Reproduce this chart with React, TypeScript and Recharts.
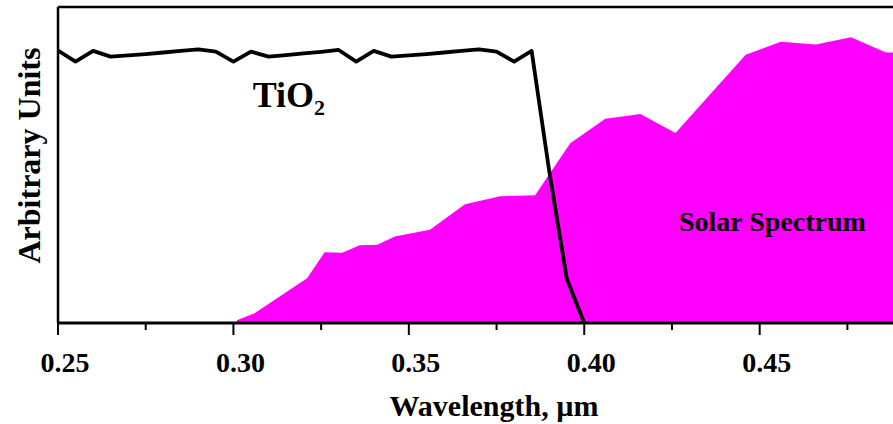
import { ComposedChart, Area, Line, XAxis, YAxis, ReferenceLine } from "recharts";

// TiO2 absorption, every 0.005 µm
const tio2Wavelength = [
  0.25, 0.255, 0.26, 0.265, 0.27, 0.275, 0.28, 0.285, 0.29, 0.295, 0.3, 0.305, 0.31, 0.315, 0.32, 0.325,
  0.33, 0.335, 0.34, 0.345, 0.35, 0.355, 0.36, 0.365, 0.37, 0.375, 0.38, 0.385, 0.39, 0.395, 0.4,
];
const tio2Absorption = [
  86.2, 82.7, 86.1, 84.3, 84.7, 85.1, 85.6, 86.1, 86.6, 85.9, 82.7, 85.9, 84.3, 84.8, 85.3, 85.8,
  86.4, 82.7, 86.1, 84.3, 84.7, 85.1, 85.6, 86.1, 86.6, 85.9, 82.7, 86.1, 48.2, 14.1, 0,
];

// solar irradiance
const solarWavelength = [
  0.301, 0.306, 0.321, 0.326, 0.331, 0.336, 0.341, 0.346, 0.356, 0.366, 0.376, 0.386, 0.396, 0.406,
  0.416, 0.426, 0.446, 0.456, 0.466, 0.476, 0.486, 0.496,
];
const solarIrradiance = [
  0.9, 3.1, 14.2, 22.4, 22.2, 24.6, 24.8, 27.4, 29.5, 37.6, 40.1, 40.4, 56.9, 64.6,
  66.1, 60.1, 84.9, 89.0, 88.1, 90.4, 85.6, 85.7,
];

const majorTicks = [0.25, 0.3, 0.35, 0.4, 0.45];
const minorTicks = [0.275, 0.325, 0.375, 0.425, 0.475];
const tickLabels = ["0.25", "0.30", "0.35", "0.40", "0.45"];

const tio2Data = tio2Wavelength.map((w, i) => ({ w, v: tio2Absorption[i] }));
const solarData = solarWavelength.map((w, i) => ({ w, v: solarIrradiance[i] }));
const allTicks = [...majorTicks, ...minorTicks].sort((a, b) => a - b);

const FONT = '"Liberation Serif", "Times New Roman", serif';

function WaveTick({ x, y, payload }: { x?: number; y?: number; payload?: { value: number } }) {
  if (x == null || y == null || !payload) return null;
  const idx = majorTicks.findIndex((t) => Math.abs(t - payload.value) < 1e-6);
  const major = idx >= 0;
  return (
    <g>
      <line x1={x} x2={x} y1={y} y2={y + (major ? 12 : 7)} stroke="#000" strokeWidth={2} />
      {major && (
        <text x={x + 7} y={y + 49} textAnchor="middle" fontFamily={FONT} fontWeight="bold" fontSize={28} fill="#000">
          {tickLabels[idx]}
        </text>
      )}
    </g>
  );
}

export default function App() {
  return (
    <div style={{ position: "absolute", left: 0, top: 0, width: 893, height: 424, background: "#fff" }}>
      <ComposedChart width={893} height={424} margin={{ top: 7, right: 0, bottom: 0, left: 0 }}>
        <XAxis
          type="number"
          dataKey="w"
          domain={[0.25, 0.488]}
          allowDataOverflow
          ticks={allTicks}
          interval={0}
          height={101}
          tickSize={0}
          tickMargin={0}
          tickLine={false}
          tick={<WaveTick />}
          axisLine={{ stroke: "#000", strokeWidth: 3 }}
        />
        <YAxis
          type="number"
          domain={[0, 100]}
          allowDataOverflow
          width={58}
          tick={false}
          tickLine={false}
          axisLine={{ stroke: "#000", strokeWidth: 2.5 }}
        />
        <ReferenceLine y={100} stroke="#000" strokeWidth={2.5} />
        <Area
          data={solarData}
          dataKey="v"
          type="linear"
          stroke="none"
          fill="#ff00ff"
          fillOpacity={1}
          isAnimationActive={false}
        />
        <Line
          data={tio2Data}
          dataKey="v"
          type="linear"
          stroke="#000"
          strokeWidth={3.8}
          strokeLinejoin="round"
          dot={false}
          activeDot={false}
          isAnimationActive={false}
        />
      </ComposedChart>
      <svg width={893} height={424} style={{ position: "absolute", left: 0, top: 0, pointerEvents: "none" }}>
        <g fontFamily={FONT} fontWeight="bold" fill="#000">
          <text x={39.5} y={155.5} textAnchor="middle" fontSize={32} transform="rotate(-90 39.5 155.5)">
            Arbitrary Units
          </text>
          <text x={494} y={416} textAnchor="middle" fontSize={30}>
            Wavelength, µm
          </text>
          <text x={252.7} y={107} fontSize={36}>
            TiO<tspan dy={8} fontSize={22}>2</tspan>
          </text>
          <text x={679} y={231} fontSize={28}>
            Solar Spectrum
          </text>
        </g>
      </svg>
    </div>
  );
}
